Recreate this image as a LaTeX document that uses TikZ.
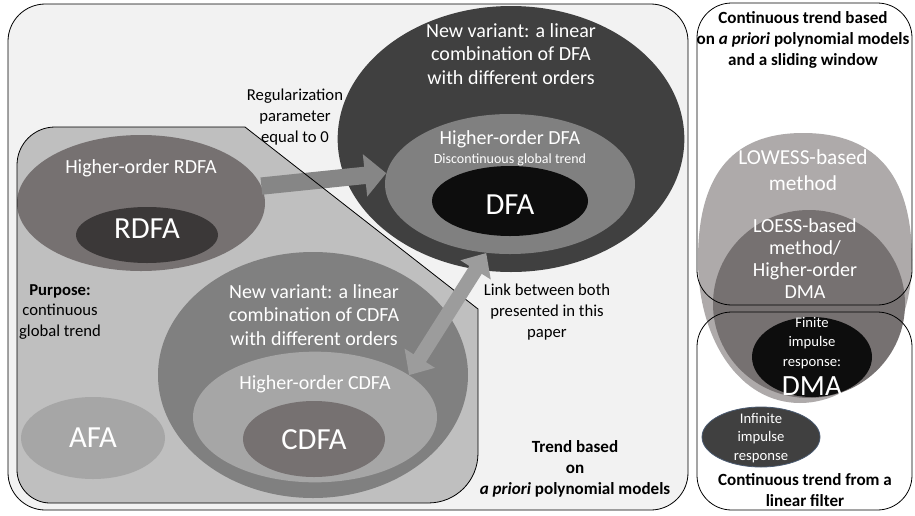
\documentclass[tikz,border=0pt]{standalone}
\usepackage{fontspec}
\setmainfont{Carlito}
\usetikzlibrary{shapes.geometric,arrows.meta}
\definecolor{bgbox}{HTML}{F2F2F2}
\definecolor{polyfill}{HTML}{BFBFBF}
\definecolor{darkfill}{HTML}{404040}
\definecolor{midfill}{HTML}{808080}
\definecolor{lightfill}{HTML}{A6A6A6}
\definecolor{warmfill}{HTML}{767171}
\definecolor{warmdark}{HTML}{3B3838}
\definecolor{blackfill}{HTML}{0D0D0D}
\definecolor{lowfill}{HTML}{AEAAAA}
\definecolor{arrowone}{HTML}{868686}
\definecolor{arrowtwo}{HTML}{9C9C9C}
\definecolor{iiredge}{HTML}{4A5A70}
\tikzset{
  blob/.style={ellipse,inner sep=0pt,draw=none},
  wtxt/.style={text=white,align=center,font=\fontsize{15}{17.6}\selectfont},
  btxt/.style={align=center,font=\fontsize{12.5}{15.5}\selectfont},
  ttxt/.style={align=center,font=\bfseries\fontsize{12.8}{16}\selectfont},
  bigtxt/.style={text=white,font=\fontsize{23}{26}\selectfont},
  fatarrow/.style={line width=13pt,-{Triangle[length=16pt,width=31pt]}},
}
\begin{document}
\begin{tikzpicture}[x=0.75pt,y=-0.75pt]
\useasboundingbox (0,0) rectangle (915,515);
% frames
\draw[fill=bgbox,line width=0.6pt,rounded corners=28pt] (8,4) rectangle (688,510);
\fill[white,rounded corners=26pt] (697,3) rectangle (912,305);
\fill[white,rounded corners=26pt] (697,312) rectangle (912,510);
% polynomial trend family
\fill[polyfill] (17,165) .. controls (17,144) and (34,127) .. (55,127) -- (245,127) -- (478,309)
  -- (478,453) .. controls (478,481) and (456,503) .. (428,503) -- (50,503)
  .. controls (32,503) and (17,488) .. (17,470) -- cycle;
% DFA family
\node[blob,fill=darkfill,minimum width=260pt,minimum height=199.5pt] (ndfa) at (511,139) {};
\node[blob,fill=midfill,minimum width=187.5pt,minimum height=105pt] (hodfa) at (510,184) {};
\node[blob,fill=blackfill,minimum width=117pt,minimum height=52.5pt] (dfa) at (510,201) {};
% RDFA
\node[blob,fill=warmfill,minimum width=186pt,minimum height=102pt] (horfa) at (141,203) {};
\node[blob,fill=warmdark,minimum width=106.5pt,minimum height=42pt] (rdfa) at (147,235) {};
% CDFA family
\node[blob,fill=midfill,minimum width=232.5pt,minimum height=184.5pt] (ncdfa) at (313,375) {};
\node[blob,fill=lightfill,minimum width=183pt,minimum height=98pt] (hocdfa) at (315,417) {};
\node[blob,fill=warmfill,minimum width=106.5pt,minimum height=57pt] (cdfa) at (314,439) {};
\node[blob,fill=lightfill,minimum width=108pt,minimum height=61.5pt] (afa) at (93,438) {};
% links
\draw[fatarrow,arrowone] (horfa.8) -- (hodfa.175);
\draw[line width=0.6pt] (17,165) .. controls (17,144) and (34,127) .. (55,127) -- (245,127) -- (478,309)
  -- (478,453) .. controls (478,481) and (456,503) .. (428,503) -- (50,503)
  .. controls (32,503) and (17,488) .. (17,470) -- cycle;
\draw[line width=11pt,arrowtwo,{Triangle[length=15pt,width=26pt]}-{Triangle[length=15pt,width=26pt]}] (hodfa.251) -- (hocdfa.24);
% texts
\node[wtxt] (tndfa) at (511,54) {New variant: a linear\\combination of DFA\\with different orders};
\node[wtxt] (thodfa) at (510,139) {Higher-order DFA};
\node[text=white,font=\fontsize{10.5}{12}\selectfont] (tdisc) at (510,160) {Discontinuous global trend};
\node[bigtxt] (tdfa) at (510,205) {DFA};
\node[btxt] (treg) at (295,117) {Regularization\\parameter\\equal to 0};
\node[wtxt] (thorfa) at (141,168) {Higher-order RDFA};
\node[bigtxt] (trdfa) at (147,229) {RDFA};
\node[btxt] (tpurp) at (60,312) {\textbf{Purpose:}\\continuous\\global trend};
\node[wtxt] (tncdfa) at (314,315) {New variant: a linear\\combination of CDFA\\with different orders};
\node[wtxt] (thocdfa) at (315,384) {Higher-order CDFA};
\node[bigtxt] (tcdfa) at (314,440) {CDFA};
\node[bigtxt] (tafa) at (93,438) {AFA};
\node[btxt] (tlink) at (547,312) {Link between both\\presented in this\\paper};
\node[ttxt] (tpoly) at (575,469) {Trend based\\on\\\textit{a priori} polynomial models};
% sliding window and linear filter
\fill[lowfill] (803,133) .. controls (880,133) and (912,180) .. (912,260) .. controls (912,340) and (860,403) .. (800,403)
  .. controls (740,403) and (698,340) .. (698,260) .. controls (698,180) and (728,133) .. (803,133) -- cycle;
\node[blob,fill=warmfill,minimum width=144pt,minimum height=141pt] (loess) at (809,304) {};
\node[blob,fill=blackfill,minimum width=90pt,minimum height=60pt] (dma) at (812,357) {};
\node[blob,fill=darkfill,draw=iiredge,line width=0.6pt,minimum width=88.5pt,minimum height=45pt] (iir) at (761,437) {};
\draw[line width=0.6pt,rounded corners=26pt] (697,3) rectangle (912,305);
\draw[line width=0.6pt,rounded corners=26pt] (697,312) rectangle (912,510);
\node[ttxt] (tslide) at (803,40) {Continuous trend based\\on \textit{a priori} polynomial models\\and a sliding window};
\node[text=white,align=center,font=\fontsize{16}{19}\selectfont] (tlowess) at (803,170) {LOWESS-based\\method};
\node[text=white,align=center,font=\fontsize{15}{16.5}\selectfont] (tloess) at (805,259) {LOESS-based\\method/\\Higher-order\\DMA};
\node[text=white,align=center,font=\fontsize{11}{14.6}\selectfont] (tfir) at (812,343) {Finite\\impulse\\response:};
\node[text=white,font=\fontsize{22}{24}\selectfont] (tdma) at (812,386) {DMA};
\node[text=white,align=center,font=\fontsize{11}{14}\selectfont] (tiir) at (761,438) {Infinite\\impulse\\response};
\node[ttxt] (tfilt) at (805,490) {Continuous trend from a\\linear filter};
\end{tikzpicture}
\end{document}
